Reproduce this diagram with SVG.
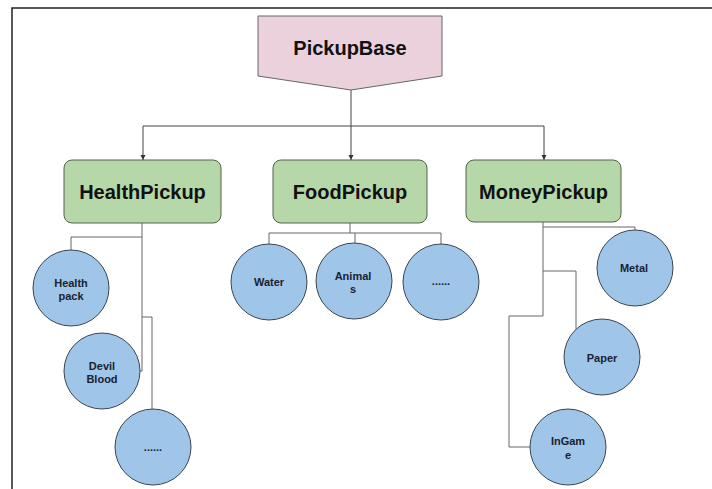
<svg xmlns="http://www.w3.org/2000/svg" width="712" height="489" viewBox="0 0 712 489">
<defs>
<style>
.frame{stroke:#222;stroke-width:1.5;fill:none}
.main{stroke:#444;stroke-width:1;fill:none}
.sub{stroke:#666;stroke-width:1;fill:none}
.box{fill:#b6d7a8;stroke:#55604f;stroke-width:1}
.base{fill:#ead1dc;stroke:#666;stroke-width:1}
.leaf{fill:#9fc5e8;stroke:#3a4450;stroke-width:1}
.big{font-family:"Liberation Sans",Arial,sans-serif;font-weight:bold;font-size:20px;fill:#111;text-anchor:middle}
.small{font-family:"Liberation Sans",Arial,sans-serif;font-weight:bold;font-size:11px;fill:#1a2230;text-anchor:middle}
</style>
<marker id="arr" markerWidth="6" markerHeight="6" refX="5" refY="3" orient="auto" markerUnits="userSpaceOnUse">
<path d="M0,0.5 L5,3 L0,5.5 Z" fill="#333"/>
</marker>
</defs>
<rect width="712" height="489" fill="#fff"/>
<path class="frame" d="M12,489 V8 H712"/>
<g id="connectors">
<path class="main" d="M351,90 V126 M143,126 H544"/>
<path class="main" d="M143,126 V160" marker-end="url(#arr)"/>
<path class="main" d="M351,126 V160" marker-end="url(#arr)"/>
<path class="main" d="M544,126 V160" marker-end="url(#arr)"/>
<path class="sub" d="M142,223 V371 H140 M142,237 H71 V250 M142,317 H152 V409"/>
<path class="sub" d="M350,223 V233 M269,233 H441 M269,233 V244 M355,233 V243 M441,233 V244"/>
<path class="sub" d="M543,222 V316 H509 V447 H530 M543,227 H635 V230 M543,271 H576 V329"/>
</g>
<g id="PickupBase">
<polygon class="base" points="258,16 442,16 442,76 351,90 258,76"/>
<text class="big" x="350" y="55">PickupBase</text>
</g>
<g id="HealthPickup">
<rect class="box" x="64" y="160" width="157" height="63" rx="8"/>
<text class="big" x="142.5" y="199">HealthPickup</text>
</g>
<g id="FoodPickup">
<rect class="box" x="273" y="160" width="154" height="63" rx="8"/>
<text class="big" x="350" y="199">FoodPickup</text>
</g>
<g id="MoneyPickup">
<rect class="box" x="466" y="160" width="155" height="62" rx="8"/>
<text class="big" x="543.5" y="199">MoneyPickup</text>
</g>
<g id="HealthPack">
<circle class="leaf" cx="71" cy="288" r="38"/>
<text class="small" x="71" y="287">Health</text>
<text class="small" x="71" y="300">pack</text>
</g>
<g id="DevilBlood">
<circle class="leaf" cx="102" cy="371" r="38"/>
<text class="small" x="102" y="370">Devil</text>
<text class="small" x="102" y="383">Blood</text>
</g>
<g id="HealthMore">
<circle class="leaf" cx="153" cy="447" r="38"/>
<text class="small" x="153" y="451">......</text>
</g>
<g id="Water">
<circle class="leaf" cx="269" cy="282" r="38"/>
<text class="small" x="269" y="286">Water</text>
</g>
<g id="Animals">
<circle class="leaf" cx="354" cy="281" r="38"/>
<text class="small" x="353" y="280">Animal</text>
<text class="small" x="353" y="293">s</text>
</g>
<g id="FoodMore">
<circle class="leaf" cx="441" cy="282" r="38"/>
<text class="small" x="441" y="285">......</text>
</g>
<g id="Metal">
<circle class="leaf" cx="635" cy="268" r="38"/>
<text class="small" x="634" y="272">Metal</text>
</g>
<g id="Paper">
<circle class="leaf" cx="602" cy="357" r="38"/>
<text class="small" x="602" y="362">Paper</text>
</g>
<g id="InGame">
<circle class="leaf" cx="568" cy="447" r="38"/>
<text class="small" x="568" y="445">InGam</text>
<text class="small" x="568" y="459">e</text>
</g>
</svg>
